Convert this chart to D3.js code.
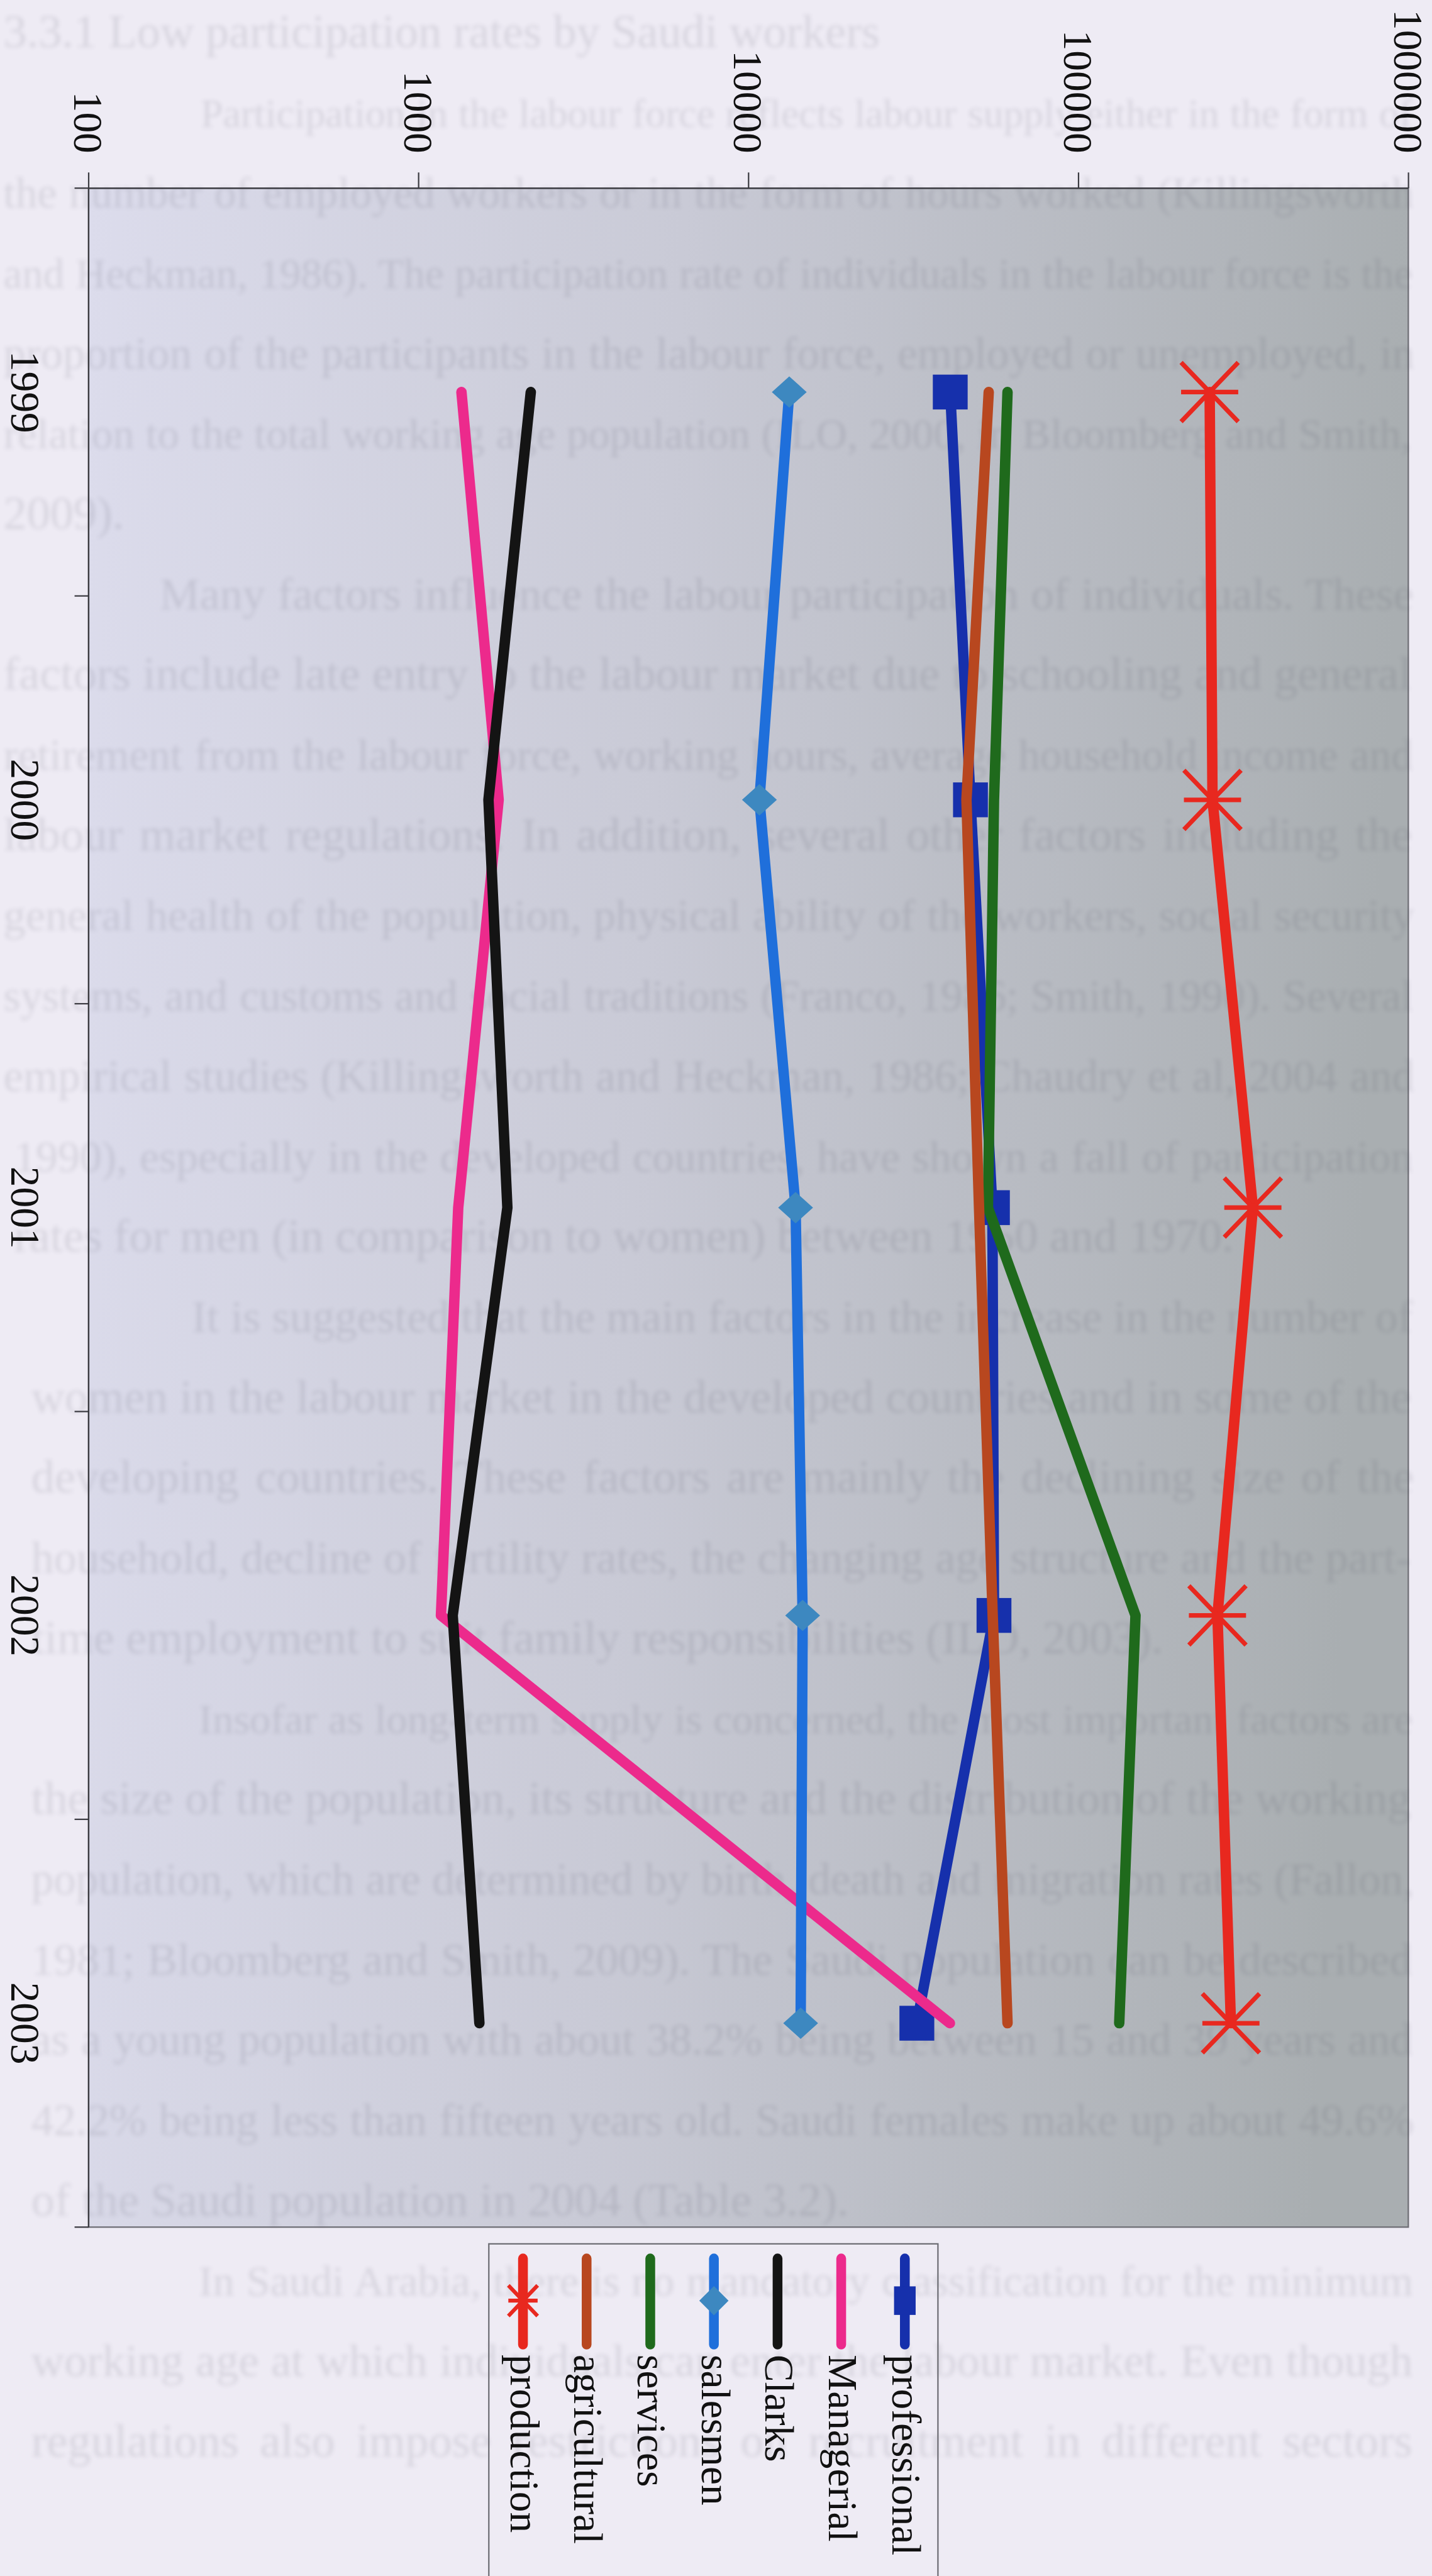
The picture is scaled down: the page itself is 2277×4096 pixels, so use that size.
<!DOCTYPE html>
<html>
<head>
<meta charset="utf-8">
<script src="https://cdn.jsdelivr.net/npm/d3@7"></script>
<style>
  html, body { margin: 0; padding: 0; background: #eeebf4; }
  svg { display: block; }
</style>
</head>
<body>
<svg id="chart" width="2277" height="4096"></svg>
<script>
// Workers by occupation, 1999-2003 (log scale), printed sideways on the page
const years = ["1999", "2000", "2001", "2002", "2003"];
const valueTicks = [100, 1000, 10000, 100000, 1000000];

const professional = [40900, 47100, 54900, 55500, 32400];
const managerial   = [1350, 1750, 1320, 1170, 40800];
const clarks       = [2190, 1630, 1860, 1270, 1530];
const salesmen     = [13300, 10800, 13900, 14600, 14400];
const services     = [61000, 55500, 53200, 149000, 133000];
const agricultural = [53500, 45800, 50000, 55000, 61000];
const production   = [250000, 255000, 338000, 264000, 290000];

// Series in drawing order (later ones on top)
const series = [
  { name: "professional", values: professional, color: "#1630ac", markColor: "#1630ac", marker: "square" },
  { name: "Managerial",   values: managerial,   color: "#ec2a8c", marker: "none" },
  { name: "Clarks",       values: clarks,       color: "#141414", marker: "none" },
  { name: "salesmen",     values: salesmen,     color: "#1f6fdb", markColor: "#3d88c0", marker: "diamond" },
  { name: "services",     values: services,     color: "#1f6a1c", marker: "none" },
  { name: "agricultural", values: agricultural, color: "#b8471f", marker: "none" },
  { name: "production",   values: production,   color: "#e8281f", markColor: "#e8281f", marker: "asterisk" }
];

// Body text of the page that shows faintly through the paper:
// [left indent, justified to full width?, text]
const pageLines = [
  [0,   false, "3.3.1 Low participation rates by Saudi workers"],
  [566, true,  "Participation in the labour force reflects labour supply either in the form of"],
  [0,   true,  "the number of employed workers or in the form of hours worked (Killingsworth"],
  [0,   true,  "and Heckman, 1986). The participation rate of individuals in the labour force is the"],
  [0,   true,  "proportion of the participants in the labour force, employed or unemployed, in"],
  [0,   true,  "relation to the total working age population (ILO, 2000, in Bloomberg and Smith,"],
  [0,   false, "2009)."],
  [448, true,  "Many factors influence the labour participation of individuals. These"],
  [0,   true,  "factors include late entry to the labour market due to schooling and general"],
  [0,   true,  "retirement from the labour force, working hours, average household income and"],
  [0,   true,  "labour market regulations. In addition, several other factors including the"],
  [0,   true,  "general health of the population, physical ability of the workers, social security"],
  [0,   true,  "systems, and customs and social traditions (Franco, 1986; Smith, 1990). Several"],
  [0,   true,  "empirical studies (Killingsworth and Heckman, 1986; Chaudry et al, 2004 and"],
  [30,  true,  "1990), especially in the developed countries, have shown a fall of participation"],
  [30,  false, "rates for men (in comparison to women) between 1950 and 1970."],
  [540, true,  "It is suggested that the main factors in the increase in the number of"],
  [80,  true,  "women in the labour market in the developed countries and in some of the"],
  [80,  true,  "developing countries. These factors are mainly the declining size of the"],
  [80,  true,  "household, decline of fertility rates, the changing age structure and the part-"],
  [80,  false, "time employment to suit family responsibilities (ILO, 2003)."],
  [560, true,  "Insofar as long-term supply is concerned, the most important factors are"],
  [80,  true,  "the size of the population, its structure and the distribution of the working"],
  [80,  true,  "population, which are determined by birth, death and migration rates (Fallon,"],
  [80,  true,  "1981; Bloomberg and Smith, 2009). The Saudi population can be described"],
  [80,  true,  "as a young population with about 38.2% being between 15 and 39 years and"],
  [80,  true,  "42.2% being less than fifteen years old. Saudi females make up about 49.6%"],
  [80,  false, "of the Saudi population in 2004 (Table 3.2)."],
  [560, true,  "In Saudi Arabia, there is no mandatory classification for the minimum"],
  [80,  true,  "working age at which individuals can enter the labour market. Even though"],
  [80,  true,  "regulations also impose restrictions on recruitment in different sectors"]
];

const W = 4110, H = 7393;
const S = 2277 / W;
const FONT = "'Liberation Serif', 'Times New Roman', serif";

const svg = d3.select("#chart");
const defs = svg.append("defs");

const grad = defs.append("linearGradient").attr("id", "plotFill")
  .attr("x1", 0).attr("y1", 0).attr("x2", 1).attr("y2", 0.08);
grad.append("stop").attr("offset", 0).attr("stop-color", "#dcdcec");
grad.append("stop").attr("offset", 0.45).attr("stop-color", "#c9cad6");
grad.append("stop").attr("offset", 1).attr("stop-color", "#a9aeb1");

defs.append("filter").attr("id", "soft")
  .attr("x", "-5%").attr("y", "-50%").attr("width", "110%").attr("height", "200%")
  .append("feGaussianBlur").attr("stdDeviation", 6);

const root = svg.append("g").attr("transform", `scale(${S})`);

root.append("rect").attr("width", W).attr("height", H).attr("fill", "#eeebf4");

// Plot geometry
const plot = { left: 254, right: 4042, top: 540, bottom: 6392 };

const x = d3.scaleLog().domain([100, 1000000]).range([plot.left, plot.right]);
const yBand = d3.scaleBand().domain(years).range([plot.top, plot.bottom]).paddingInner(0).paddingOuter(0);
const y = d3.scalePoint().domain(years).range([plot.top, plot.bottom]).padding(0.5);

// Plot area
root.append("rect")
  .attr("x", plot.left).attr("y", plot.top)
  .attr("width", plot.right - plot.left).attr("height", plot.bottom - plot.top)
  .attr("fill", "url(#plotFill)")
  .attr("stroke", "#6d6d74").attr("stroke-width", 4);

// Faint show-through text, fitted and justified to the right margin
const RIGHT_MARGIN = 4060;
const BASE_SIZE = 134;
const bleed = root.append("g")
  .attr("filter", "url(#soft)")
  .attr("opacity", 0.12)
  .selectAll("text")
  .data(pageLines)
  .join("text")
  .attr("x", d => d[0] + 10)
  .attr("y", (d, i) => 135 + i * 230.5)
  .attr("font-family", FONT)
  .attr("font-size", BASE_SIZE)
  .attr("fill", "#3e3e50")
  .text(d => d[2]);
bleed.each(function (d) {
  const sel = d3.select(this);
  const target = RIGHT_MARGIN - d[0] - 10;
  let natural = this.getComputedTextLength();
  if (natural > target) {
    const size = Math.floor(BASE_SIZE * target / natural * 0.995);
    sel.attr("font-size", size);
    natural = this.getComputedTextLength();
  }
  const gaps = (d[2].match(/ /g) || []).length;
  if (d[1] && gaps > 0 && natural < target) {
    sel.attr("word-spacing", Math.floor((target - natural) / gaps));
  }
});

// Value axis (top)
const axTop = root.append("g")
  .attr("transform", `translate(0,${plot.top})`)
  .call(d3.axisTop(x).tickValues(valueTicks).tickSize(45).tickSizeOuter(0).tickFormat(d3.format("d")));
axTop.select(".domain").attr("stroke", "#3a3a40").attr("stroke-width", 4);
axTop.selectAll(".tick line").attr("stroke", "#3a3a40").attr("stroke-width", 4);
axTop.selectAll(".tick text")
  .attr("x", 0).attr("y", 0).attr("dy", "0.35em")
  .attr("transform", "translate(0,-100) rotate(90)")
  .attr("text-anchor", "end")
  .attr("font-family", FONT).attr("font-size", 118).attr("fill", "#111");

// Year axis (left)
const axLeft = root.append("g")
  .attr("transform", `translate(${plot.left},0)`)
  .call(d3.axisLeft(yBand).tickSize(0).tickSizeOuter(0));
axLeft.select(".domain").attr("stroke", "#3a3a40").attr("stroke-width", 4);
axLeft.selectAll(".tick text")
  .attr("x", 0).attr("y", 0).attr("dy", "0.35em")
  .attr("transform", "translate(-180,0) rotate(90)")
  .attr("text-anchor", "middle")
  .attr("font-family", FONT).attr("font-size", 118).attr("fill", "#111");
const bounds = years.map(d => yBand(d)).concat([yBand.range()[1]]);
axLeft.selectAll(".bound").data(bounds).join("line").attr("class", "bound")
  .attr("x1", -40).attr("x2", 0).attr("y1", d => d).attr("y2", d => d)
  .attr("stroke", "#3a3a40").attr("stroke-width", 4);

// Marker shapes
function drawMarker(g, type, color, size) {
  if (type === "square") {
    g.append("rect").attr("x", -size.w / 2).attr("y", -size.h / 2)
      .attr("width", size.w).attr("height", size.h).attr("fill", color);
  } else if (type === "diamond") {
    g.append("path")
      .attr("d", `M0,${-size.h / 2}L${size.w / 2},0L0,${size.h / 2}L${-size.w / 2},0Z`)
      .attr("fill", color);
  } else if (type === "asterisk") {
    const a = size.w / 2, b = size.h / 2;
    g.append("path")
      .attr("d", `M${-a},${-b}L${a},${b}M${-a},${b}L${a},${-b}M${-a},0L${a},0`)
      .attr("fill", "none").attr("stroke", color).attr("stroke-width", size.sw);
  }
}
const plotMarkerSize = {
  square: { w: 100, h: 100 },
  diamond: { w: 100, h: 90 },
  asterisk: { w: 164, h: 170, sw: 13 }
};
const legendMarkerSize = {
  square: { w: 62, h: 82 },
  diamond: { w: 84, h: 84 },
  asterisk: { w: 84, h: 88, sw: 11 }
};

const line = d3.line().x(d => x(d.v)).y(d => y(d.year));

series.forEach(s => {
  const pts = years.map((yr, i) => ({ year: yr, v: s.values[i] }));
  const g = root.append("g").attr("class", "series");
  g.append("path").datum(pts)
    .attr("d", line)
    .attr("fill", "none").attr("stroke", s.color)
    .attr("stroke-width", 30).attr("stroke-linecap", "round").attr("stroke-linejoin", "round");
  if (s.marker !== "none") {
    pts.forEach(p => {
      const m = g.append("g").attr("transform", `translate(${x(p.v)},${y(p.year)})`);
      drawMarker(m, s.marker, s.markColor, plotMarkerSize[s.marker]);
    });
  }
});

// Legend (entries run right-to-left in series order)
const legend = root.append("g");
legend.append("rect")
  .attr("x", 1403).attr("y", 6440).attr("width", 1289).attr("height", 1100)
  .attr("fill", "none").attr("stroke", "#6d6d74").attr("stroke-width", 4);
const legX = d3.scalePoint().domain(series.map(s => s.name)).range([2597, 1501]);
series.forEach(s => {
  const lx = legX(s.name);
  const g = legend.append("g").attr("transform", `translate(${lx},0)`);
  g.append("line").attr("x1", 0).attr("x2", 0).attr("y1", 6482).attr("y2", 6729)
    .attr("stroke", s.color).attr("stroke-width", 28).attr("stroke-linecap", "round");
  if (s.marker !== "none") {
    const m = g.append("g").attr("transform", "translate(0,6603)");
    drawMarker(m, s.marker, s.markColor, legendMarkerSize[s.marker]);
  }
  g.append("text")
    .attr("x", 0).attr("y", 0).attr("dy", "0.3em")
    .attr("transform", "translate(0,6758) rotate(90)")
    .attr("text-anchor", "start")
    .attr("font-family", FONT).attr("font-size", 118).attr("fill", "#111")
    .text(s.name);
});
</script>
</body>
</html>
